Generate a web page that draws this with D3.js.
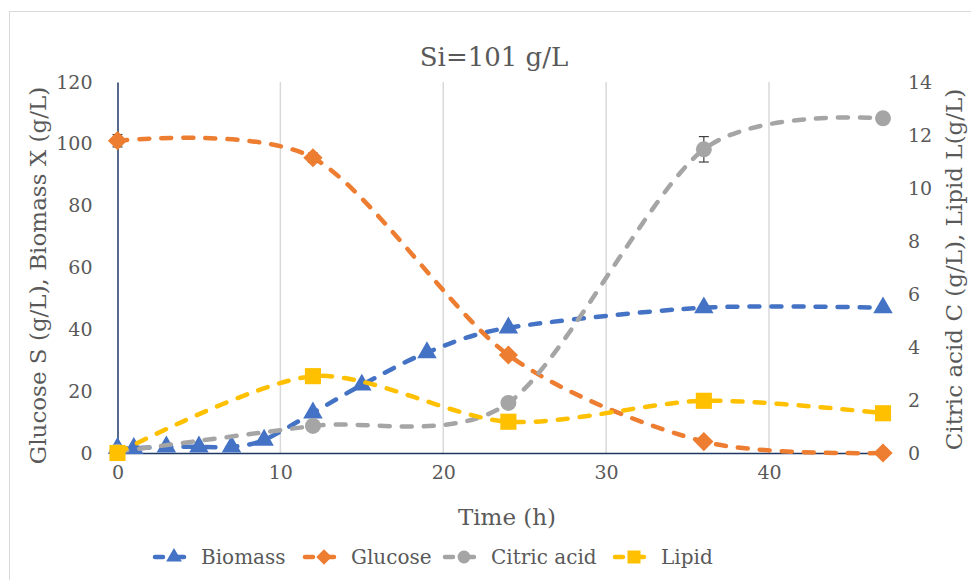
<!DOCTYPE html>
<html>
<head>
<meta charset="utf-8">
<script src="https://cdn.jsdelivr.net/npm/d3@7"></script>
<style>
  body { margin: 0; background: #fff; }
  text { font-family: "DejaVu Serif", "Liberation Serif", serif; fill: #595959; }
</style>
</head>
<body>
<div id="chart"></div>
<script>
var svgWidth = 971;
var svgHeight = 580;

// data
var biomassT = [0, 1, 3, 5, 7, 9, 12, 15, 19, 24, 36, 47];
var biomass  = [1.5, 1.5, 2, 2, 2, 4.2, 13, 22, 32.5, 40.5, 47, 47];

var glucoseT = [0, 12, 24, 36, 47];
var glucose  = [101, 95.5, 31.7, 3.7, 0];
var glucoseErr = [2, 1.5, 0.5, 0.8, 0];

var citricT = [0, 12, 24, 36, 47];
var citric  = [0.05, 1.02, 1.89, 11.46, 12.63];
var citricErr = [0, 0.05, 0.05, 0.48, 0.05];

var lipidT = [0, 12, 24, 36, 47];
var lipid  = [0, 2.9, 1.18, 1.97, 1.5];

var xTicks = [0, 10, 20, 30, 40];
var leftTicks = [0, 20, 40, 60, 80, 100, 120];
var rightTicks = [0, 2, 4, 6, 8, 10, 12, 14];

var margin = { top: 82, left: 117.5, right: 88, bottom: 127 };
var width = svgWidth - margin.left - margin.right;
var height = svgHeight - margin.top - margin.bottom;

var svg = d3.select("#chart").append("svg")
  .attr("width", svgWidth)
  .attr("height", svgHeight);

// chart border
svg.append("rect")
  .attr("x", 9.5).attr("y", 11.5)
  .attr("width", 1000).attr("height", 600)
  .attr("fill", "none").attr("stroke", "#d9d9d9");

var g = svg.append("g")
  .attr("transform", `translate(${margin.left}, ${margin.top})`);

var x = d3.scaleLinear().domain([0, 47]).range([0, width]);
var yL = d3.scaleLinear().domain([0, 120]).range([height, 0]);
var yR = d3.scaleLinear().domain([0, 14]).range([height, 0]);

// vertical gridlines
g.selectAll(".grid").data(xTicks.filter(d => d > 0)).enter()
  .append("line")
  .attr("x1", d => x(d)).attr("x2", d => x(d))
  .attr("y1", 0).attr("y2", height)
  .attr("stroke", "#d9d9d9").attr("stroke-width", 1.5);

// axes
var bottomAxis = d3.axisBottom(x).tickValues(xTicks).tickSize(0).tickPadding(13);
var leftAxis = d3.axisLeft(yL).tickValues(leftTicks).tickSize(0).tickPadding(25);
var rightAxis = d3.axisRight(yR).tickValues(rightTicks).tickSize(0).tickPadding(25);

var xAxisG = g.append("g").attr("transform", `translate(0, ${height})`).call(bottomAxis);
var yAxisG = g.append("g").call(leftAxis);
var yAxisR = g.append("g").attr("transform", `translate(${width}, 0)`).call(rightAxis);

[xAxisG, yAxisG, yAxisR].forEach(function(a) {
  a.attr("font-family", null);
  a.selectAll("text").style("font-size", "19px").attr("fill", "#595959");
});
xAxisG.select(".domain").attr("stroke", "#1f3864").attr("stroke-width", 1.5);
yAxisG.select(".domain").attr("stroke", "#1f3864").attr("stroke-width", 1.5);
yAxisR.select(".domain").remove();

// titles
svg.append("text")
  .attr("x", 494).attr("y", 66)
  .attr("text-anchor", "middle")
  .style("font-size", "26px")
  .text("Si=101 g/L");

svg.append("text")
  .attr("x", 507).attr("y", 525)
  .attr("text-anchor", "middle")
  .style("font-size", "23px")
  .text("Time (h)");

svg.append("text")
  .attr("transform", `translate(46, ${margin.top + height / 2 + 8}) rotate(-90)`)
  .attr("text-anchor", "middle")
  .style("font-size", "23px")
  .text("Glucose S (g/L), Biomass X (g/L)");

svg.append("text")
  .attr("transform", `translate(962, ${margin.top + height / 2 + 2}) rotate(-90)`)
  .attr("text-anchor", "middle")
  .style("font-size", "23px")
  .text("Citric acid C (g/L), Lipid L(g/L)");

var series = [
  { name: "Biomass", t: biomassT, v: biomass, y: yL, color: "#4472c4", sym: d3.symbolTriangle, size: 165, rot: 0 },
  { name: "Glucose", t: glucoseT, v: glucose, y: yL, color: "#ed7d31", sym: d3.symbolSquare, size: 185, rot: 45, err: glucoseErr },
  { name: "Citric acid", t: citricT, v: citric, y: yR, color: "#a5a5a5", sym: d3.symbolCircle, size: 200, rot: 0, err: citricErr },
  { name: "Lipid", t: lipidT, v: lipid, y: yR, color: "#ffc000", sym: d3.symbolSquare, size: 260, rot: 0 }
];

var line = d3.line().curve(d3.curveCardinal.tension(0.15));

series.forEach(function(s) {
  var pts = s.t.map((t, i) => [x(t), s.y(s.v[i])]);

  g.append("path")
    .attr("d", line(pts))
    .attr("fill", "none")
    .attr("stroke", s.color)
    .attr("stroke-width", 4.5)
    .attr("stroke-linecap", "round")
    .attr("stroke-dasharray", "10,12");

  if (s.err) {
    s.t.forEach(function(t, i) {
      if (!s.err[i]) return;
      var cx = x(t), y1 = s.y(s.v[i] + s.err[i]), y2 = s.y(s.v[i] - s.err[i]);
      var eg = g.append("g").attr("stroke", "#404040").attr("stroke-width", 1.2);
      eg.append("line").attr("x1", cx).attr("x2", cx).attr("y1", y1).attr("y2", y2);
      eg.append("line").attr("x1", cx - 5).attr("x2", cx + 5).attr("y1", y1).attr("y2", y1);
      eg.append("line").attr("x1", cx - 5).attr("x2", cx + 5).attr("y1", y2).attr("y2", y2);
    });
  }

  g.selectAll(null).data(pts).enter()
    .append("path")
    .attr("d", d3.symbol().type(s.sym).size(s.size))
    .attr("transform", d => `translate(${d[0]}, ${d[1]}) rotate(${s.rot})`)
    .attr("fill", s.color);
});

// legend
var legendX = [152, 302, 442, 612];
var legend = svg.append("g").attr("transform", "translate(0, 557)");
series.forEach(function(s, i) {
  var lg = legend.append("g").attr("transform", `translate(${legendX[i]}, 0)`);
  lg.append("line").attr("x1", 3).attr("x2", 40).attr("y1", 0).attr("y2", 0)
    .attr("stroke", s.color).attr("stroke-width", 4.5)
    .attr("stroke-linecap", "round").attr("stroke-dasharray", "8,13");
  lg.append("path").attr("d", d3.symbol().type(s.sym).size(s.size * 0.65))
    .attr("transform", `translate(22, 0) rotate(${s.rot})`).attr("fill", s.color);
  lg.append("text").attr("x", 49).attr("y", 7)
    .style("font-size", "20px").text(s.name);
});
</script>
</body>
</html>
